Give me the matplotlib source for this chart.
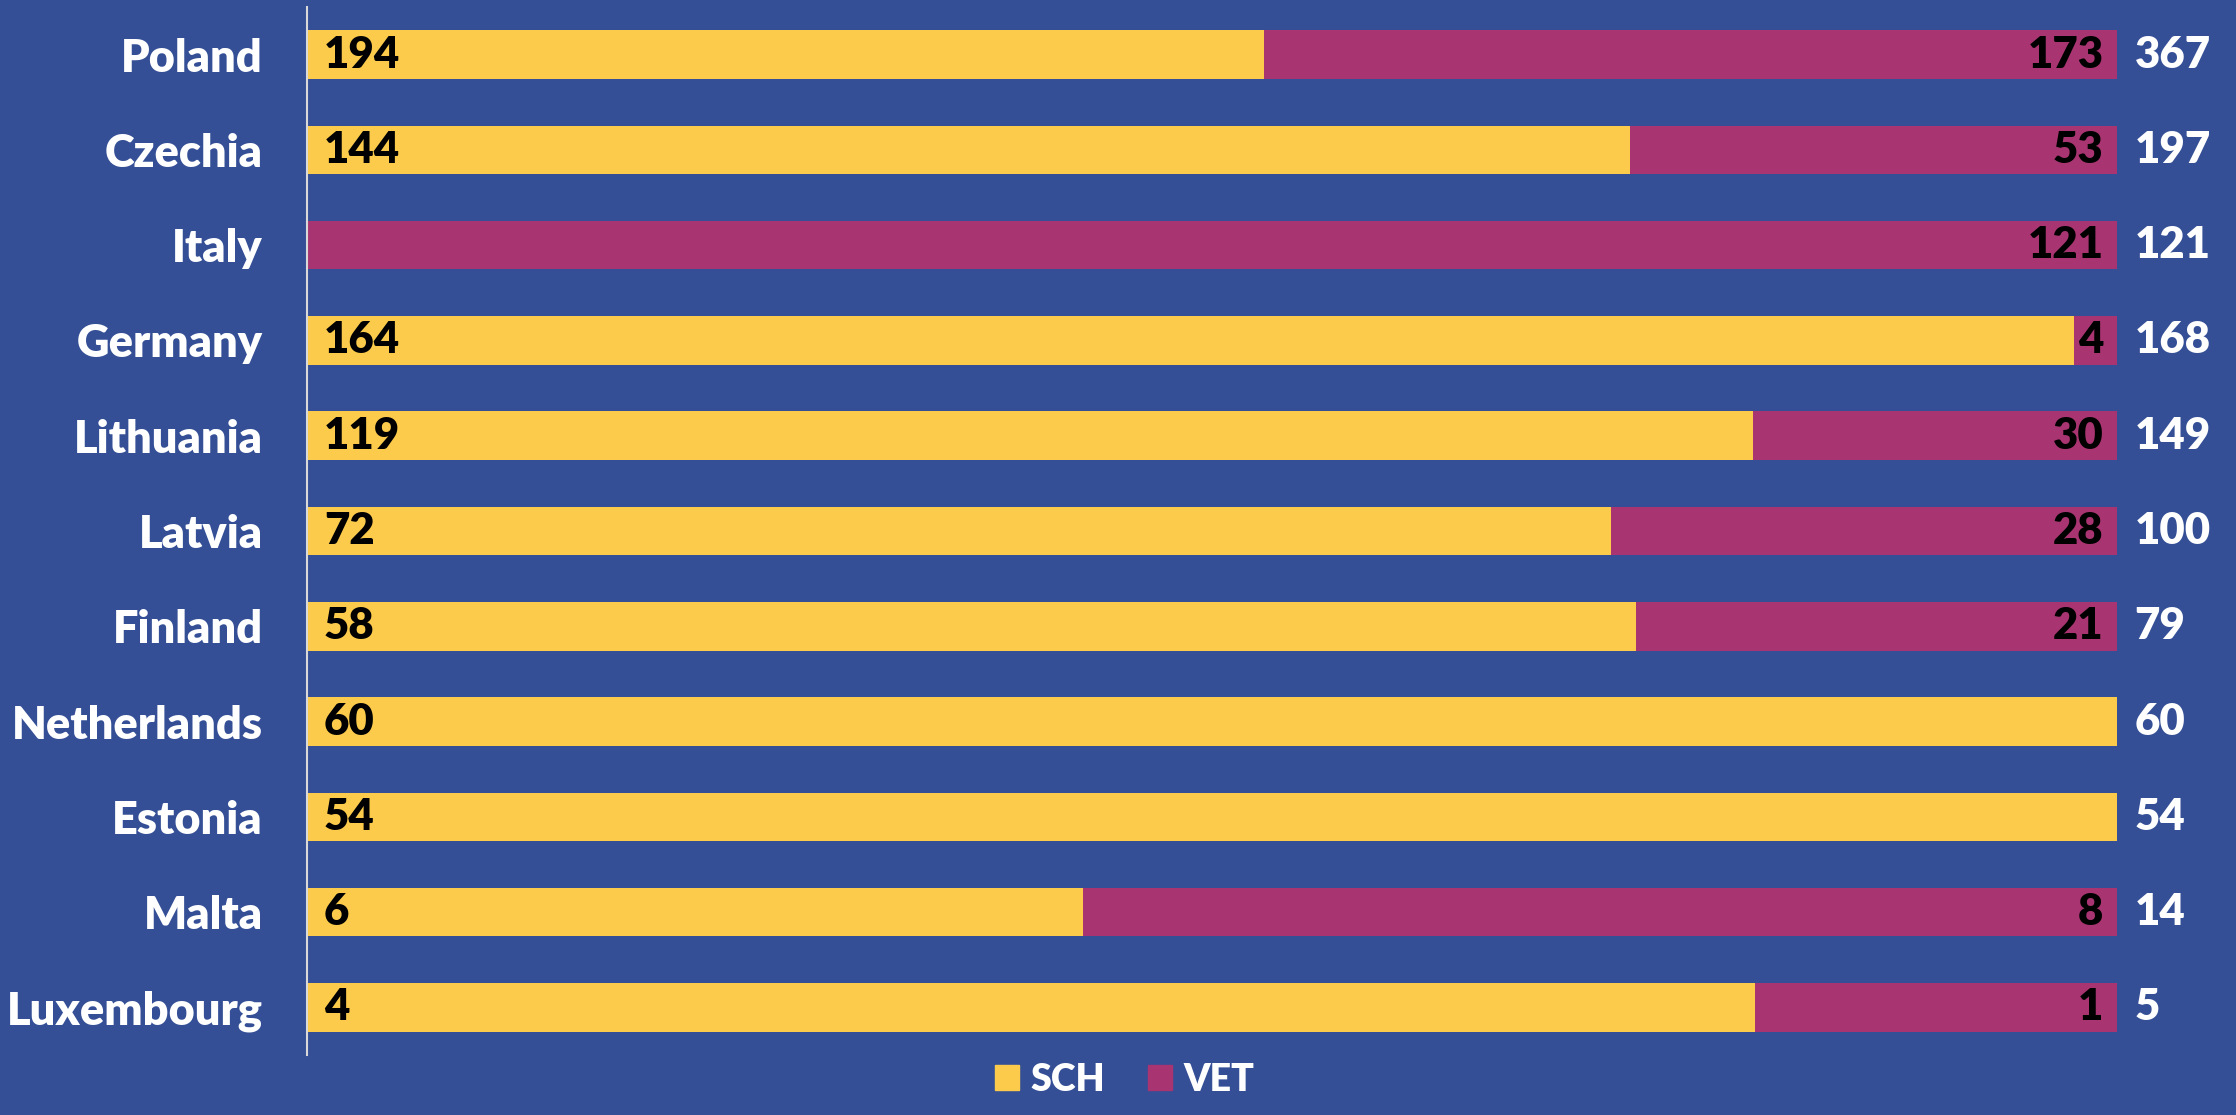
import matplotlib
matplotlib.use("Agg")
import matplotlib.pyplot as plt
from matplotlib.patches import Patch
import numpy as np

countries = ["Poland", "Czechia", "Italy", "Germany", "Lithuania", "Latvia",
             "Finland", "Netherlands", "Estonia", "Malta", "Luxembourg"]
sch = [194, 144, 0, 164, 119, 72, 58, 60, 54, 6, 4]
vet = [173, 53, 121, 4, 30, 28, 21, 0, 0, 8, 1]

BG = "#344F96"
YELLOW = "#FCCB4C"
MAGENTA = "#A83571"
FONT = ["Lato", "DejaVu Sans"]

plt.rcParams['font.family'] = FONT
plt.rcParams['font.weight'] = 'heavy'

fig = plt.figure(figsize=(22.36, 11.15), dpi=100, facecolor=BG)
ax = fig.add_axes([0.1373, 0.0538, 0.947 - 0.1373, 0.9937 - 0.0538])
ax.set_facecolor(BG)

sch_a = np.array(sch, dtype=float)
vet_a = np.array(vet, dtype=float)
tot = sch_a + vet_a
sch_p = sch_a / tot * 100
vet_p = vet_a / tot * 100
y = np.arange(len(countries))
h = 0.51

ax.barh(y, sch_p, height=h, color=YELLOW, label="SCH")
ax.barh(y, vet_p, left=sch_p, height=h, color=MAGENTA, label="VET")

ax.set_xlim(0, 100)
ax.set_ylim(len(countries) - 0.5, -0.5)

W = 'heavy'
trans_off = matplotlib.transforms.offset_copy
for i in range(len(countries)):
    if sch[i] > 0:
        ax.text(0, y[i], str(sch[i]), transform=trans_off(ax.transData, fig=fig, x=17, y=0, units='dots'),
                ha='left', va='center', fontsize=31.5, fontweight=W, color='black')
    if vet[i] > 0:
        ax.text(100, y[i], str(vet[i]), transform=trans_off(ax.transData, fig=fig, x=-14, y=0, units='dots'),
                ha='right', va='center', fontsize=31.5, fontweight=W, color='black')
    ax.text(100, y[i], str(int(tot[i])), transform=trans_off(ax.transData, fig=fig, x=17, y=0, units='dots'),
            ha='left', va='center', fontsize=31.5, fontweight=W, color='white', clip_on=False)

ax.set_yticks(y)
ax.set_yticklabels(countries, fontsize=32.5, fontweight=W, color='white')
ax.tick_params(axis='y', length=0, pad=32)
ax.set_xticks([])
for s in ['top', 'right', 'bottom']:
    ax.spines[s].set_visible(False)
ax.spines['left'].set_color('#D9D9D9')
ax.spines['left'].set_linewidth(1.5)

handles = [Patch(color=YELLOW, label="SCH"), Patch(color=MAGENTA, label="VET")]
leg = fig.legend(handles=handles, loc='lower center', bbox_to_anchor=(0.503, -0.014), ncol=2,
                 frameon=False, fontsize=27, handlelength=0.65, handleheight=0.65,
                 handletextpad=0.3, columnspacing=1.15)
for t in leg.get_texts():
    t.set_color('white')
    t.set_fontweight(W)

fig.savefig("out.png", dpi=100, facecolor=BG)
